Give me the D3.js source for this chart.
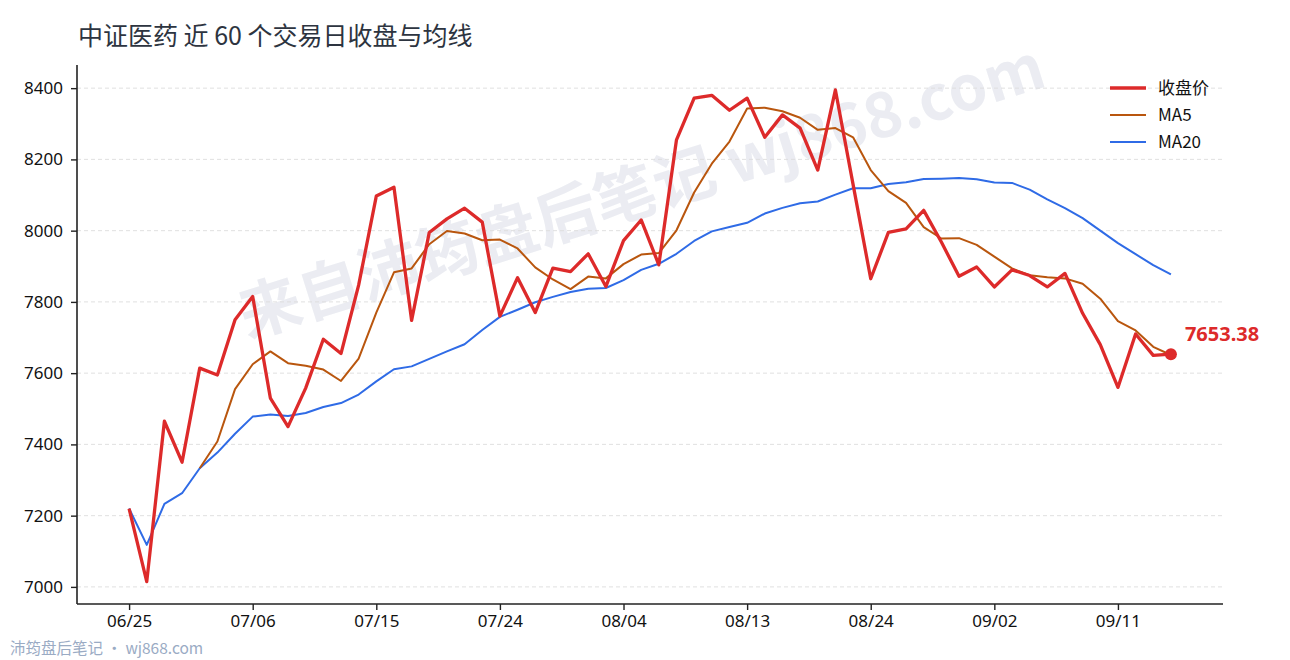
<!DOCTYPE html>
<html>
<head>
<meta charset="utf-8">
<script src="https://cdn.jsdelivr.net/npm/d3@7"></script>
<style>
  html, body { margin: 0; padding: 0; background: #fff; }
  svg { display: block; font-family: "Noto Sans CJK SC", "Noto Sans", sans-serif; }
</style>
</head>
<body>
<svg id="chart" width="1290" height="660"></svg>
<script>
const dates = ["06/25","06/26","06/29","06/30","07/01","07/02","07/03","07/06","07/07","07/08",
  "07/09","07/10","07/13","07/14","07/15","07/16","07/17","07/20","07/21","07/22",
  "07/23","07/24","07/27","07/28","07/29","07/30","07/31","08/03","08/04","08/05",
  "08/06","08/07","08/10","08/11","08/12","08/13","08/14","08/17","08/18","08/19",
  "08/20","08/21","08/24","08/25","08/26","08/27","08/28","08/31","09/01","09/02",
  "09/03","09/04","09/07","09/08","09/09","09/10","09/11","09/14","09/15","09/16"];
const tickLabels = ["06/25","07/06","07/15","07/24","08/04","08/13","08/24","09/02","09/11"];
const yTicks = [7000, 7200, 7400, 7600, 7800, 8000, 8200, 8400];

const closeVals = [7220,7015,7465,7350,7614,7595,7750,7815,7530,7450,
  7558,7695,7655,7847,8097,8122,7748,7995,8033,8063,
  8024,7760,7868,7770,7895,7885,7935,7843,7972,8030,
  7904,8255,8372,8380,8338,8372,8262,8325,8288,8170,
  8395,8130,7865,7995,8005,8057,7968,7872,7898,7842,
  7890,7874,7842,7880,7768,7680,7560,7710,7650,7653.38];
const ma5Vals = [null,null,null,null,7333,7408,7555,7625,7661,7628,
  7621,7610,7578,7641,7770,7883,7894,7962,7999,7992,
  7973,7975,7950,7897,7863,7836,7871,7866,7906,7933,
  7937,8001,8107,8188,8250,8343,8345,8335,8317,8283,
  8288,8262,8170,8111,8078,8010,7978,7979,7960,7927,
  7894,7875,7869,7866,7851,7809,7746,7720,7674,7651];
const ma20Vals = [7220,7118,7233,7263,7333,7377,7430,7478,7484,7480,
  7488,7505,7516,7540,7577,7611,7619,7640,7661,7681,
  7721,7758,7778,7799,7814,7828,7837,7839,7861,7890,
  7907,7935,7971,7998,8010,8022,8048,8064,8077,8082,
  8101,8119,8119,8131,8136,8145,8146,8148,8144,8135,
  8134,8115,8088,8063,8035,8000,7965,7934,7903,7877];

const seriesNames = ["收盘价", "MA5", "MA20"];
const colors = { close: "#dd2a2a", ma5: "#b9560e", ma20: "#2f6be6" };

const svg = d3.select("#chart");
const L = 77, R = 1223, T = 65, B = 604;

const x = d3.scaleLinear().domain([-2.95, dates.length - 1 + 2.95]).range([L, R]);
const y = d3.scaleLinear().domain([6952, 8465]).range([B, T]);

// watermark
svg.append("text")
  .attr("transform", "translate(648,212) rotate(-17.5)")
  .attr("text-anchor", "middle")
  .attr("font-size", 62)
  .attr("font-weight", 700)
  .attr("fill", "#e9ebf1")
  .attr("opacity", 0.9)
  .text("来自沛筠盘后笔记 wj868.com");

// grid
svg.append("g").selectAll("line").data(yTicks).join("line")
  .attr("x1", L).attr("x2", R)
  .attr("y1", d => y(d)).attr("y2", d => y(d))
  .attr("stroke", "#dcdcdc").attr("stroke-width", 0.9)
  .attr("stroke-dasharray", "4,3");

// axes
const tickIdx = tickLabels.map(t => dates.indexOf(t));
const xAxis = d3.axisBottom(x).tickValues(tickIdx).tickFormat(i => dates[i]).tickSize(6).tickPadding(5);
const yAxis = d3.axisLeft(y).tickValues(yTicks).tickFormat(d3.format("d")).tickSize(6).tickPadding(8);

const gx = svg.append("g").attr("transform", `translate(0,${B})`).call(xAxis);
gx.select(".domain").attr("d", `M${L},0H${R}`);
const gy = svg.append("g").attr("transform", `translate(${L},0)`).call(yAxis);
gy.select(".domain").attr("d", `M0,${T}V${B}`);
[gx, gy].forEach(g => {
  g.select(".domain").attr("stroke", "#222").attr("stroke-width", 1.6);
  g.selectAll(".tick line").attr("stroke", "#222").attr("stroke-width", 1.4);
  g.selectAll(".tick text").attr("fill", "#111").attr("font-size", 17)
    .attr("font-family", "'Noto Sans', 'Noto Sans CJK SC', sans-serif");
});

// lines
function drawLine(vals, color, w) {
  svg.append("path")
    .datum(vals)
    .attr("fill", "none")
    .attr("stroke", color)
    .attr("stroke-width", w)
    .attr("stroke-linejoin", "round")
    .attr("stroke-linecap", "butt")
    .attr("d", d3.line().defined(d => d != null).x((d, i) => x(i)).y(d => y(d))(vals));
}
drawLine(ma20Vals, colors.ma20, 2);
drawLine(ma5Vals, colors.ma5, 2);
drawLine(closeVals, colors.close, 3.3);

// last point marker and label
const lastI = closeVals.length - 1;
svg.append("circle")
  .attr("cx", x(lastI)).attr("cy", y(closeVals[lastI]))
  .attr("r", 6).attr("fill", colors.close);
svg.append("text")
  .attr("x", x(lastI) + 14).attr("y", y(closeVals[lastI]) - 13)
  .attr("font-size", 20).attr("font-weight", 700)
  .attr("fill", colors.close)
  .attr("font-family", "'Noto Sans', sans-serif")
  .text(d3.format(".2f")(closeVals[lastI]));

// legend
const legend = svg.append("g");
const legItems = [
  { name: seriesNames[0], color: colors.close, w: 3.3 },
  { name: seriesNames[1], color: colors.ma5, w: 2 },
  { name: seriesNames[2], color: colors.ma20, w: 2 }
];
legItems.forEach((d, k) => {
  const yy = 88 + k * 27;
  legend.append("line").attr("x1", 1110).attr("x2", 1146).attr("y1", yy).attr("y2", yy)
    .attr("stroke", d.color).attr("stroke-width", d.w);
  legend.append("text").attr("x", 1158).attr("y", yy + 6)
    .attr("font-size", 17).attr("fill", "#111").text(d.name);
});

// title
svg.append("text").attr("x", 78).attr("y", 45)
  .attr("font-size", 25).attr("fill", "#2d3440")
  .text("中证医药 近 60 个交易日收盘与均线");

// footer
svg.append("text").attr("x", 10).attr("y", 654)
  .attr("font-size", 15.5).attr("fill", "#9aabc4")
  .text("沛筠盘后笔记 · wj868.com");
</script>
</body>
</html>
